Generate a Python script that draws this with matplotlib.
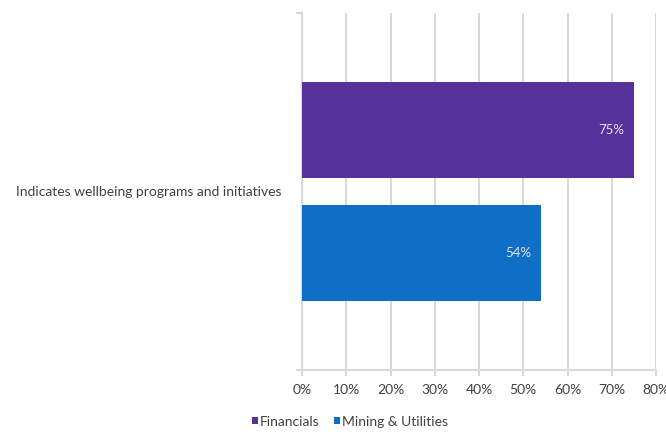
import matplotlib
matplotlib.use("Agg")
import matplotlib.pyplot as plt
from matplotlib.ticker import PercentFormatter

categories = ["Indicates wellbeing programs and initiatives"]
series_names = ["Financials", "Mining & Utilities"]
financials = [75]
mining = [54]
colors = ["#55329a", "#0f6fc6"]
xticks = [0, 10, 20, 30, 40, 50, 60, 70, 80]

plt.rcParams["font.family"] = ["Lato", "DejaVu Sans"]
text_color = "#404040"
grid_color = "#d9d9d9"

fig = plt.figure(figsize=(6.66, 4.32), dpi=100)
ax = fig.add_axes([0.4535, 0.1435, 0.5315, 0.8265])

h = 0.268
off = 0.172
for vals, name, c, dy in [(financials, series_names[0], colors[0], off),
                          (mining, series_names[1], colors[1], -off)]:
    ys = [i + dy for i in range(len(categories))]
    ax.barh(ys, vals, height=h, color=c, label=name, zorder=3)
    for y, v in zip(ys, vals):
        ax.text(v - 2.2, y, f"{v}%", ha="right", va="center",
                color="#e6e2f2", fontsize=9.5, zorder=4)

ax.set_xlim(0, 80)
ax.set_ylim(-0.5, 0.5)
ax.set_xticks(xticks)
ax.xaxis.set_major_formatter(PercentFormatter(decimals=0))
ax.set_yticks(range(len(categories)))
ax.set_yticklabels(categories)
ax.set_yticks([-0.5, 0.5], minor=True)

ax.grid(True, axis="x", color=grid_color, lw=1.5, zorder=0)
for s in ["top", "right"]:
    ax.spines[s].set_visible(False)
for s in ["left", "bottom"]:
    ax.spines[s].set_color(grid_color)
    ax.spines[s].set_linewidth(1.5)

ax.tick_params(axis="x", colors=grid_color, length=4, width=1.5,
               labelcolor=text_color, labelsize=10, pad=6)
ax.tick_params(axis="y", which="major", length=0, labelcolor=text_color,
               labelsize=10, pad=15)
ax.tick_params(axis="y", which="minor", length=4, width=1.5, color=grid_color)

fig.legend(loc="center", bbox_to_anchor=(0.5255, 0.024), ncol=2, frameon=False,
           fontsize=10, handlelength=0.45, handleheight=0.45, handletextpad=0.15,
           columnspacing=1.0, labelcolor=text_color)

fig.savefig("out.png", dpi=100)
